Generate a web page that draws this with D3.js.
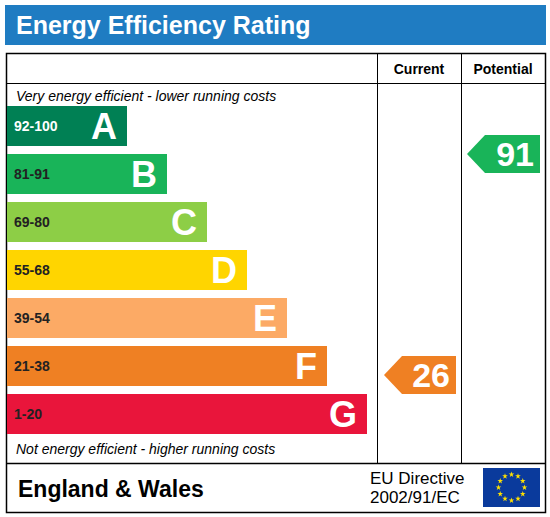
<!DOCTYPE html>
<html><head><meta charset="utf-8">
<script src="https://cdn.jsdelivr.net/npm/d3@7/dist/d3.min.js"></script>
<style>body{margin:0;background:#fff}text{font-family:Arial,"Liberation Sans",sans-serif}</style>
</head><body><svg id="c" width="550" height="517"></svg>
<script>
const bands=["A","B","C","D","E","F","G"];
const ranges=["92-100","81-91","69-80","55-68","39-54","21-38","1-20"];
const colors=["#008054","#19b459","#8dce46","#ffd500","#fcaa65","#ef8023","#e9153b"];
const current=26, potential=91;
const svg=d3.select("#c");
svg.append("rect").attr("x",5).attr("y",5).attr("width",541).attr("height",40).attr("fill","#1f7cc2");
svg.append("text").attr("x",16).attr("y",34).attr("fill","#fff").attr("font-size",25).attr("font-weight","bold").text("Energy Efficiency Rating");
svg.append("rect").attr("x",6.5).attr("y",53.5).attr("width",539).attr("height",459).attr("fill","none").attr("stroke","#000").attr("stroke-width",1.5);
[[377.5,53,463],[461.5,53,463]].forEach(l=>svg.append("line").attr("x1",l[0]).attr("x2",l[0]).attr("y1",l[1]).attr("y2",l[2]).attr("stroke","#000"));
svg.append("line").attr("x1",6).attr("x2",546).attr("y1",83.5).attr("y2",83.5).attr("stroke","#000");
svg.append("line").attr("x1",6).attr("x2",546).attr("y1",463.5).attr("y2",463.5).attr("stroke","#000").attr("stroke-width",1.5);
svg.append("text").attr("x",419).attr("y",74).attr("text-anchor","middle").attr("font-size",14).attr("font-weight","bold").text("Current");
svg.append("text").attr("x",503).attr("y",74).attr("text-anchor","middle").attr("font-size",14).attr("font-weight","bold").text("Potential");
svg.append("text").attr("x",16).attr("y",101).attr("font-size",14).attr("font-style","italic").text("Very energy efficient - lower running costs");
svg.append("text").attr("x",16).attr("y",454).attr("font-size",14).attr("font-style","italic").text("Not energy efficient - higher running costs");
const y=d3.scaleBand().domain(bands).range([106,434]).paddingInner(8/48).paddingOuter(0);
const w=d3.scaleLinear().domain([0,6]).range([120,360]);
const vy=d3.scaleLinear().domain([1,100]).range([460,123.4]);
bands.forEach((b,i)=>{
 const g=svg.append("g");
 g.append("rect").attr("x",7).attr("y",y(b)).attr("width",w(i)).attr("height",y.bandwidth()).attr("fill",colors[i]);
 g.append("text").attr("x",14).attr("y",y(b)+y.bandwidth()/2+5).attr("font-size",14).attr("font-weight","bold").attr("fill",i==0?"#fff":"#222").text(ranges[i]);
 g.append("text").attr("x",7+w(i)-10).attr("y",y(b)+y.bandwidth()/2+13).attr("text-anchor","end").attr("font-size",36).attr("font-weight","bold").attr("fill","#fff").text(b);
});
function bandOf(v){return v>=92?0:v>=81?1:v>=69?2:v>=55?3:v>=39?4:v>=21?5:6;}
function arrow(v,x0,x1){
 const i=bandOf(v), m=vy(v), h=38, t=m-h/2;
 svg.append("path").attr("d",`M${x0},${m}L${x0+18},${t}L${x1},${t}L${x1},${t+h}L${x0+18},${t+h}Z`).attr("fill",colors[i]);
 svg.append("text").attr("x",x1-6).attr("y",m+12).attr("text-anchor","end").attr("font-size",34).attr("font-weight","bold").attr("fill","#fff").text(v);
}
arrow(current,384,456);
arrow(potential,467,540);
svg.append("text").attr("x",18).attr("y",497).attr("font-size",23).attr("font-weight","bold").text("England & Wales");
svg.append("text").attr("x",370).attr("y",484).attr("font-size",17).text("EU Directive");
svg.append("text").attr("x",370).attr("y",503).attr("font-size",17).text("2002/91/EC");
svg.append("rect").attr("x",483).attr("y",468).attr("width",57).attr("height",39).attr("fill","#0a3a9c");
const star=d3.symbol().type(d3.symbolStar).size(10);
d3.range(12).forEach(k=>{const a=k*Math.PI/6;svg.append("path").attr("d",star).attr("fill","#ffe000").attr("transform",`translate(${511.5+13*Math.sin(a)},${487.5-13*Math.cos(a)})`);});
</script></body></html>
